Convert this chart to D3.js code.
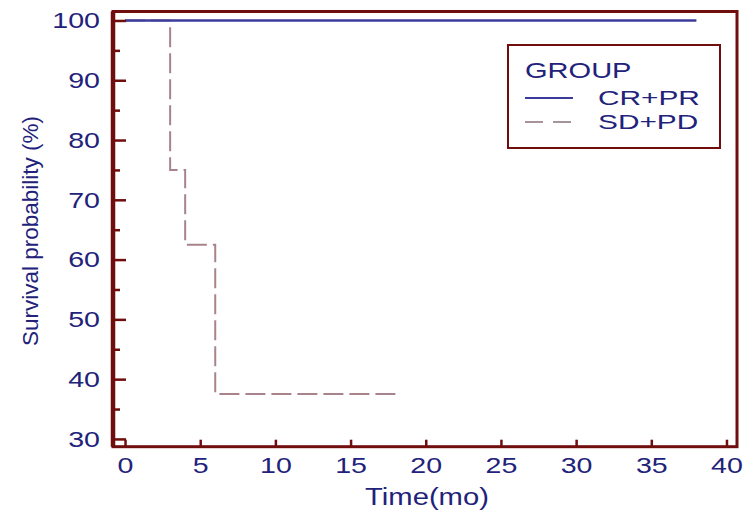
<!DOCTYPE html>
<html>
<head>
<meta charset="utf-8">
<script src="https://cdn.jsdelivr.net/npm/d3@7"></script>
<style>
  body { margin: 0; background: #fff; }
  text { font-family: "Liberation Sans", Arial, sans-serif; fill: #22227a; }
</style>
</head>
<body>
<div id="chart"></div>
<script>
// data
var groups = ["CR+PR", "SD+PD"];
var crprTime = [0, 38];
var crprSurv = [100, 100];
var sdpdTime = [0, 3, 4, 6, 18];
var sdpdSurv = [100, 75, 62.5, 37.5, 37.5];
var xTicks = [0, 5, 10, 15, 20, 25, 30, 35, 40];
var yTicks = [30, 40, 50, 60, 70, 80, 90, 100];
var yMinor = [35, 45, 55, 65, 75, 85, 95];

var width = 743, height = 511;
var frameCol = "#700d0d";
var stretchK = 1.27;   // source image is wider than tall

var svg = d3.select("#chart")
            .append("svg")
            .attr("width", width)
            .attr("height", height);

var x = d3.scaleLinear().domain([-0.8, 40.7]).range([113, 737]);
var y = d3.scaleLinear().domain([28.7, 101.5]).range([446.7, 11.5]);

function stretch(sel, k) {
    sel.each(function() {
        var w = this.getComputedTextLength();
        d3.select(this).attr("textLength", w * k).attr("lengthAdjust", "spacingAndGlyphs");
    });
}

// lines
var line = d3.line()
            .x(d => x(d[0]))
            .y(d => y(d[1]))
            .curve(d3.curveStepAfter);

svg.append("path")
    .datum(d3.zip(sdpdTime, sdpdSurv))
    .attr("d", line)
    .attr("fill", "none")
    .attr("stroke", "#a8838b")
    .attr("stroke-width", 2)
    .attr("stroke-dasharray", "20,6");

svg.append("path")
    .datum(d3.zip(crprTime, crprSurv))
    .attr("d", line)
    .attr("fill", "none")
    .attr("stroke", "#3b3b9c")
    .attr("stroke-width", 2.5);

// axes
var xAxis = svg.append("g")
    .attr("transform", "translate(0," + y.range()[0] + ")")
    .call(d3.axisBottom(x).tickValues(xTicks).tickSize(-7).tickPadding(10).tickSizeOuter(0));
xAxis.select(".domain").remove();
xAxis.selectAll("line").attr("stroke", frameCol).attr("stroke-width", 2.5);
xAxis.selectAll("text").style("font-size", "22.5px").attr("fill", "#22227a").call(stretch, stretchK);

var yAxis = svg.append("g")
    .attr("transform", "translate(" + x.range()[0] + ",0)")
    .call(d3.axisLeft(y).tickValues(yTicks).tickSize(-13).tickPadding(13).tickSizeOuter(0));
yAxis.select(".domain").remove();
yAxis.selectAll("line").attr("stroke", frameCol).attr("stroke-width", 2.5);
yAxis.selectAll("text").style("font-size", "22.5px").attr("fill", "#22227a").call(stretch, stretchK);

var yMin = svg.append("g")
    .attr("transform", "translate(" + x.range()[0] + ",0)")
    .call(d3.axisLeft(y).tickValues(yMinor).tickSize(-7).tickFormat(""));
yMin.select(".domain").remove();
yMin.selectAll("line").attr("stroke", frameCol).attr("stroke-width", 2.5);

// frame
var x0 = x.range()[0], x1 = x.range()[1], y0 = y.range()[0], y1 = y.range()[1];
svg.append("rect")
    .attr("x", x0).attr("y", y1)
    .attr("width", x1 - x0).attr("height", y0 - y1)
    .attr("fill", "none")
    .attr("stroke", frameCol)
    .attr("stroke-width", 3);
svg.append("line")
    .attr("x1", x0).attr("x2", x0).attr("y1", y1).attr("y2", y0)
    .attr("stroke", frameCol).attr("stroke-width", 4.5);

// axis titles
svg.append("text")
    .attr("x", 427).attr("y", 505)
    .attr("text-anchor", "middle")
    .style("font-size", "23px")
    .text("Time(mo)")
    .call(stretch, stretchK);

svg.append("text")
    .attr("transform", "translate(38,231)rotate(-90)")
    .attr("text-anchor", "middle")
    .style("font-size", "22.5px")
    .text("Survival probability (%)");

// legend
var lg = svg.append("g");
lg.append("rect")
    .attr("x", 508).attr("y", 45)
    .attr("width", 212).attr("height", 103)
    .attr("fill", "#fff")
    .attr("stroke", frameCol)
    .attr("stroke-width", 2);
lg.append("text")
    .attr("x", 525).attr("y", 78)
    .style("font-size", "22px")
    .text("GROUP")
    .call(stretch, 1.32);

var legStyles = [
    {stroke: "#3b3b9c", dash: null},
    {stroke: "#a8939b", dash: "18,10"}
];
groups.forEach(function(g, i) {
    var ly = 98 + i * 24;
    lg.append("line")
        .attr("x1", 525).attr("x2", 573)
        .attr("y1", ly).attr("y2", ly)
        .attr("stroke", legStyles[i].stroke)
        .attr("stroke-width", 2)
        .attr("stroke-dasharray", legStyles[i].dash);
    lg.append("text")
        .attr("x", 598).attr("y", ly + 7)
        .style("font-size", "21px")
        .text(g)
        .call(stretch, 1.42);
});
</script>
</body>
</html>
